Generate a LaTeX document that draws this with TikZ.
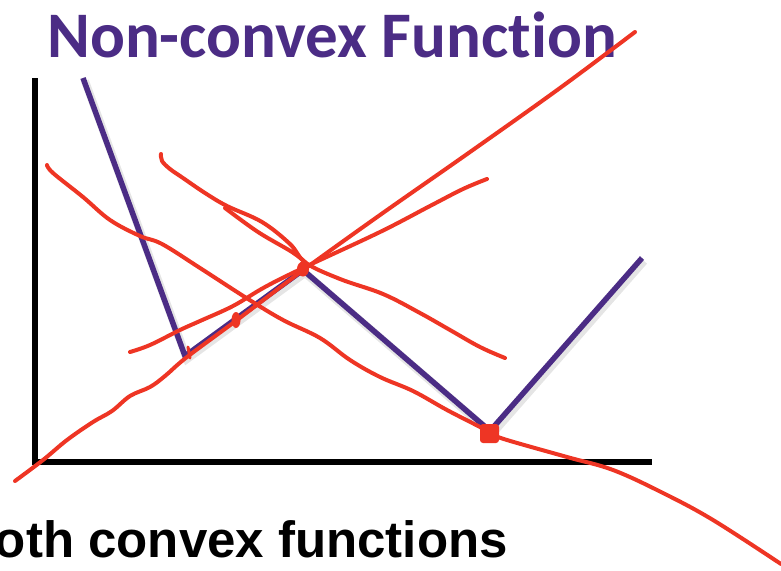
\documentclass[tikz,border=0pt]{standalone}
\usepackage{fontspec}
\newfontfamily\headfont{Carlito}[Ligatures=NoCommon]
\newfontfamily\capfont{Liberation Sans}
\usetikzlibrary{calc}
\definecolor{funcc}{HTML}{4B2C85}
\definecolor{penc}{HTML}{EE3524}
\tikzset{
  fn/.style={line width=5.5pt,funcc,line join=miter},
  pen/.style={line width=4pt,penc,line cap=round,line join=round},
  dot/.style={fill=penc}
}
\begin{document}
\begin{tikzpicture}[x=1pt,y=-1pt]
\useasboundingbox (0,0) rectangle (781,570);
\clip (0,0) rectangle (781,570);
\node[font=\headfont\bfseries\fontsize{65}{70}\selectfont,funcc,anchor=base west,inner sep=0pt] (title) at (47,57) {Non-convex Function};
\node[font=\capfont\bfseries\fontsize{51}{60}\selectfont,anchor=base east,inner sep=0pt] (caption) at (508,557) {oth convex functions};
% axes
\draw[line width=5.5pt,line join=miter] (35,78) -- (35,462) -- (652,462);
% the function
\coordinate (p0) at (83,78);
\coordinate (p1) at (185,356);
\coordinate (p2) at (303,270);
\coordinate (p3) at (490,431);
\coordinate (p4) at (642,258);
\draw[fn,black,opacity=0.1,line width=8pt] ([shift={(2,3)}]p0) -- ([shift={(2,3)}]p1) -- ([shift={(2,3)}]p2) -- ([shift={(2,3)}]p3) -- ([shift={(2,3)}]p4);
\draw[fn] (p0) -- (p1) -- (p2) -- (p3) -- (p4);
% pen strokes
\draw[pen] plot[smooth,tension=0.6] coordinates {(15,481) (43,460) (67,440) (93,422) (112,411) (130,396) (150,387) (165,376) (187,357) (237,320) (302,271) (380,215) (470,152) (560,88) (635,32)};
\draw[pen] plot[smooth,tension=0.6] coordinates {(130,352) (150,345) (180,330) (200,321) (233,306) (265,287) (303,268) (380,232) (430,206) (463,189) (487,179)};
\draw[pen] plot[smooth,tension=0.6] coordinates {(161,154) (162,161) (170,169) (183,178) (205,193) (227,206) (262,222) (290,244) (306,263) (340,279) (383,294) (420,313) (450,330) (480,347) (505,358)};
\draw[pen] plot[smooth,tension=0.6] coordinates {(225,208) (258,232) (292,252) (306,263)};
\draw[pen] plot[smooth,tension=0.6] coordinates {(47,165) (53,173) (83,197) (110,220) (140,236) (162,244) (200,268) (248,299) (283,320) (320,338) (350,360) (380,377) (413,391) (447,410) (480,427) (492,434) (507,440) (567,457) (613,470) (663,493) (713,520) (781,564)};
\draw[pen,line width=3pt] (188,347) -- (190,358);
% marks
\fill[dot] (303,269) ellipse [x radius=6pt,y radius=7.5pt];
\fill[dot] (236,320) ellipse [x radius=4.5pt,y radius=8pt];
\fill[dot,rounded corners=3pt] (480,424) rectangle (499,443);
\end{tikzpicture}
\end{document}
